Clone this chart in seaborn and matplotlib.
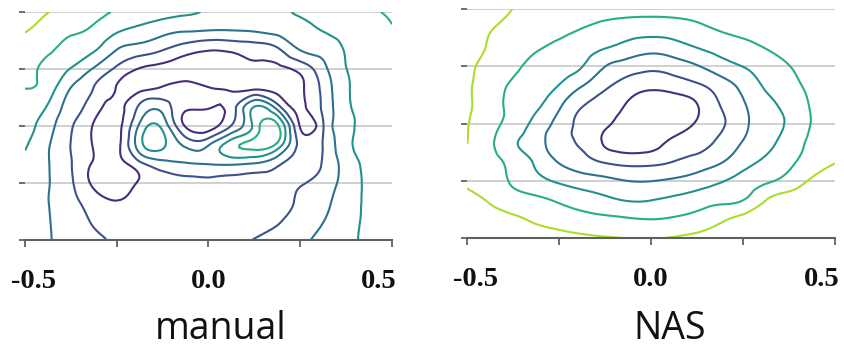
import numpy as np
import matplotlib
matplotlib.use("Agg")
import matplotlib.pyplot as plt
import matplotlib.tri as mtri
from matplotlib.transforms import ScaledTranslation
import seaborn as sns

# grid of the loss surface (x = direction 1, y = direction 2)
x_vals = [-0.5, -0.4375, -0.375, -0.3125, -0.25, -0.1875, -0.125, -0.0625, 0.0,
          0.0625, 0.125, 0.1875, 0.25, 0.3125, 0.375, 0.4375, 0.5]
y_vals = [0.5, 0.4167, 0.3333, 0.25, 0.1667, 0.0833, 0.0, -0.0833, -0.1667,
          -0.25, -0.3333, -0.4167, -0.5]

# loss values, rows from top (y=0.5) to bottom
manual_loss = [
    [6.5, 6.02, 5.7, 5.35, 4.9, 4.65, 4.4, 4.15, 3.9, 3.7, 3.65, 3.8, 4.15, 4.5, 4.75, 4.9, 5.1],
    [6.05, 5.55, 5.15, 4.8, 4.1, 3.7, 3.3, 3.05, 2.95, 2.95, 3.05, 3.3, 3.6, 4.02, 4.35, 4.65, 4.95],
    [5.5, 5.15, 4.6, 4.1, 2.98, 2.5, 2.02, 1.4, 1.05, 1.15, 1.4, 1.8, 3.02, 3.35, 4.1, 4.5, 4.75],
    [5.4, 4.7, 3.95, 2.9, 1.8, 0.93, 0.7, 0.6, 0.55, 0.6, 0.65, 0.75, 1.3, 2.7, 3.98, 4.4, 4.6],
    [5.02, 4.5, 2.98, 1.98, 0.95, 0.7, 1.1, 1.3, 1.05, 0.8, 0.75, 0.7, 0.85, 2.3, 3.85, 4.4, 4.6],
    [4.6, 3.9, 2.5, 1.5, 0.7, 2.2, 2.6, 1.2, 1.1, 1.5, 4.05, 2.5, 0.8, 2.2, 3.8, 4.3, 4.6],
    [4.35, 3.4, 2.1, 0.9, 0.6, 3.2, 3.7, 0.9, 0.5, 2.05, 4.3, 5.2, 0.9, 1.95, 3.7, 4.4, 4.7],
    [4.1, 3.1, 1.98, 0.9, 0.65, 3.6, 4.2, 2.8, 2.95, 4.6, 5.3, 4.7, 1.7, 2.05, 3.7, 4.4, 4.7],
    [3.8, 3.05, 2.05, 0.85, 0.6, 1.7, 2.6, 2.9, 3.02, 3.1, 2.9, 2.2, 1.5, 2.1, 3.4, 4.3, 4.6],
    [3.7, 3.05, 2.15, 0.8, 0.5, 1.1, 1.6, 1.7, 1.75, 1.7, 1.65, 1.7, 1.9, 2.45, 3.4, 4.2, 4.5],
    [3.6, 3.02, 2.3, 1.5, 1.05, 1.35, 1.55, 1.6, 1.6, 1.6, 1.65, 1.75, 2.15, 2.75, 3.5, 4.2, 4.5],
    [3.45, 3.05, 2.5, 1.9, 1.6, 1.5, 1.45, 1.45, 1.45, 1.5, 1.6, 1.9, 2.45, 2.98, 3.6, 4.2, 4.45],
    [3.35, 3.05, 2.7, 2.25, 1.85, 1.65, 1.55, 1.5, 1.5, 1.6, 2.05, 2.45, 2.8, 3.25, 3.7, 4.25, 4.5],
]

nas_loss = [
    [6.8, 6.4, 5.99, 5.8, 5.65, 5.5, 5.42, 5.37, 5.35, 5.37, 5.42, 5.5, 5.6, 5.75, 5.9, 5.95, 5.9],
    [6.35, 6.05, 5.75, 5.5, 5.3, 5.01, 4.75, 4.55, 4.47, 4.55, 4.8, 5.1, 5.3, 5.5, 5.7, 5.8, 5.85],
    [6.25, 5.92, 5.45, 5.1, 4.8, 4.45, 4.07, 3.65, 3.38, 3.6, 4.03, 4.4, 4.7, 5.05, 5.35, 5.55, 5.7],
    [6.12, 5.75, 5.2, 4.75, 4.45, 4.03, 3.02, 2.55, 2.28, 2.5, 2.93, 3.55, 4.02, 4.5, 4.98, 5.3, 5.55],
    [6.1, 5.55, 4.85, 4.55, 3.98, 3.07, 2.2, 1.55, 1.22, 1.45, 1.85, 2.5, 3.3, 4.15, 4.72, 5.2, 5.45],
    [6.1, 5.5, 4.7, 4.2, 3.2, 2.1, 1.55, 0.92, 0.55, 0.5, 0.98, 2.02, 2.9, 3.7, 4.35, 5.1, 5.45],
    [6.05, 5.35, 4.6, 3.7, 2.65, 1.7, 1.15, 0.6, 0.4, 0.55, 1.08, 1.8, 2.75, 3.55, 4.15, 5.05, 5.4],
    [6.01, 5.2, 4.15, 3.45, 2.35, 1.85, 0.88, 0.5, 0.6, 1.22, 1.55, 2.25, 3.05, 3.7, 4.45, 5.2, 5.5],
    [5.85, 5.4, 4.65, 3.85, 2.93, 2.4, 1.9, 1.65, 1.7, 2.02, 2.4, 2.9, 3.6, 4.2, 4.8, 5.45, 5.95],
    [5.9, 5.55, 4.85, 4.3, 3.85, 3.5, 3.25, 2.99, 2.97, 3.15, 3.45, 3.9, 4.35, 4.85, 5.35, 6.15, 6.6],
    [6.3, 5.9, 5.45, 5.2, 4.85, 4.5, 4.2, 3.93, 3.97, 4.2, 4.5, 4.75, 4.97, 5.98, 6.5, 6.9, 7.2],
    [6.9, 6.4, 6.15, 5.85, 5.6, 5.35, 5.2, 5.07, 4.98, 5.1, 5.35, 5.8, 6.3, 6.7, 7.0, 7.3, 7.5],
    [7.2, 6.9, 6.65, 6.45, 6.3, 6.17, 6.06, 5.98, 5.96, 6.06, 6.25, 6.5, 6.8, 7.05, 7.3, 7.5, 7.7],
]

levels = [1, 2, 3, 4, 5, 6]
xtick_vals = [-0.5, -0.25, 0.0, 0.25, 0.5]
xtick_labels = ["-0.5", "", "0.0", "", "0.5"]
ytick_vals = [-0.5, -0.25, 0.0, 0.25, 0.5]
titles = ["manual", "NAS"]

sns.set_theme(style="white")
viridis = sns.color_palette("viridis", 7)
line_colors = [viridis[0], viridis[1], viridis[2], viridis[3], viridis[4], viridis[6]]

fig = plt.figure(figsize=(8.45, 3.47), dpi=100)
ax_manual = fig.add_axes([25 / 845, 107 / 347, 367 / 845, 228 / 347])
ax_nas = fig.add_axes([467 / 845, 109 / 347, 368 / 845, 229 / 347])


def draw_panel(ax, loss):
    X, Y = np.meshgrid(x_vals, y_vals)
    tri = mtri.Triangulation(X.ravel(), Y.ravel())
    refiner = mtri.UniformTriRefiner(tri)
    tri_f, z_f = refiner.refine_field(np.asarray(loss, dtype=float).ravel(), subdiv=3)
    ax.tricontour(tri_f, z_f, levels=levels, colors=line_colors, linewidths=1.5, zorder=3)

    ax.set_xlim(-0.5, 0.5)
    ax.set_ylim(-0.5, 0.5)
    for side in ["top", "right", "left"]:
        ax.spines[side].set_visible(False)
    ax.spines["bottom"].set_color("#5f5f5f")
    ax.spines["bottom"].set_linewidth(1.5)
    ax.spines["bottom"].set_zorder(4)

    ax.set_yticks(ytick_vals)
    ax.set_yticklabels([])
    ax.yaxis.grid(True, color="#c8c8c8", linewidth=1.2)
    ax.xaxis.grid(False)
    ax.set_axisbelow(True)
    ax.tick_params(axis="y", left=True, length=4, width=1.2, color="#555555")
    ax.tick_params(axis="x", bottom=True, length=5, width=1.2, color="#555555", pad=16)

    ax.set_xticks(xtick_vals)
    ax.set_xticklabels(xtick_labels, fontfamily="Liberation Serif",
                       fontweight="bold", fontsize=20.5, color="#111111")
    labels = ax.get_xticklabels()
    labels[0].set_transform(labels[0].get_transform() + ScaledTranslation(0.09, 0, fig.dpi_scale_trans))
    labels[-1].set_transform(labels[-1].get_transform() + ScaledTranslation(-0.13, 0, fig.dpi_scale_trans))


draw_panel(ax_manual, manual_loss)
draw_panel(ax_nas, nas_loss)

fig.text(221 / 845, 8 / 347, titles[0], ha="center", va="baseline",
         fontsize=27, family="Open Sans", color="#111111")
fig.text(670 / 845, 8 / 347, titles[1], ha="center", va="baseline",
         fontsize=27, family="Open Sans", color="#111111")

fig.savefig("out.png", dpi=100, facecolor="white")
